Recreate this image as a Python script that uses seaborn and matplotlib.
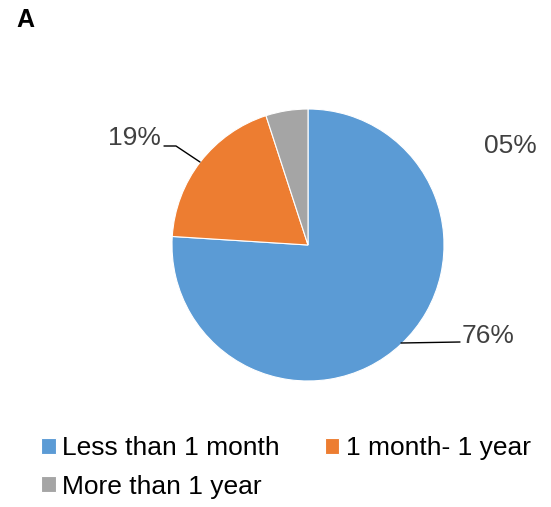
import matplotlib
matplotlib.use("Agg")
import matplotlib.pyplot as plt
import seaborn as sns

# Duration categories and their shares (%)
categories = ["Less than 1 month", "1 month- 1 year", "More than 1 year"]
shares = [76, 19, 5]
slice_colors = ["#5B9BD5", "#ED7D31", "#A5A5A5"]

sns.set_theme(style="white")
plt.rcParams["font.family"] = ["Liberation Sans", "DejaVu Sans"]
palette = sns.color_palette(slice_colors)

W, H = 551, 507
fig = plt.figure(figsize=(W / 100, H / 100), dpi=100)
ax = fig.add_axes([0, 0, 1, 1])

def py(y):
    # convert a top-down pixel row into the axes' bottom-up coordinate
    return H - y

wedges, _ = ax.pie(
    shares,
    colors=palette,
    startangle=90,
    counterclock=False,
    center=(308, py(245)),
    radius=136,
    wedgeprops=dict(edgecolor="white", linewidth=0.8),
)
ax.set_xlim(0, W)
ax.set_ylim(0, H)
ax.set_aspect("equal")
ax.axis("off")

labels = [f"{v:02d}%" for v in shares]
label_color = "#404040"
fs = 19

# 76% label with leader
ax.plot([401, 460], [py(343), py(342)], color="black", lw=1)
ax.text(462, py(343), labels[0], fontsize=fs, color=label_color, ha="left", va="baseline")
# 19% label with leader
ax.plot([164, 176, 200], [py(146), py(146), py(162)], color="black", lw=1)
ax.text(161, py(145), labels[1], fontsize=fs, color=label_color, ha="right", va="baseline")
# 5% label
ax.text(484, py(153), labels[2], fontsize=fs, color=label_color, ha="left", va="baseline")

# Panel letter
fig.text(16 / W, 1 - 27 / H, "A", fontsize=18, fontweight="bold", color="black",
         ha="left", va="baseline")

# legend entries laid out row by row: (0, 1) on the first row, 2 below
order = [0, 2, 1]
fig.legend(
    [wedges[i] for i in order], [categories[i] for i in order],
    ncol=2,
    loc="upper left",
    bbox_to_anchor=(41 / W, 1 - 436 / H),
    frameon=False,
    fontsize=19,
    handlelength=0.55,
    handleheight=0.55,
    handletextpad=0.25,
    columnspacing=1.7,
    labelspacing=0.55,
    borderpad=0,
    borderaxespad=0,
    labelcolor="black",
)

fig.savefig("out.png", dpi=100)
